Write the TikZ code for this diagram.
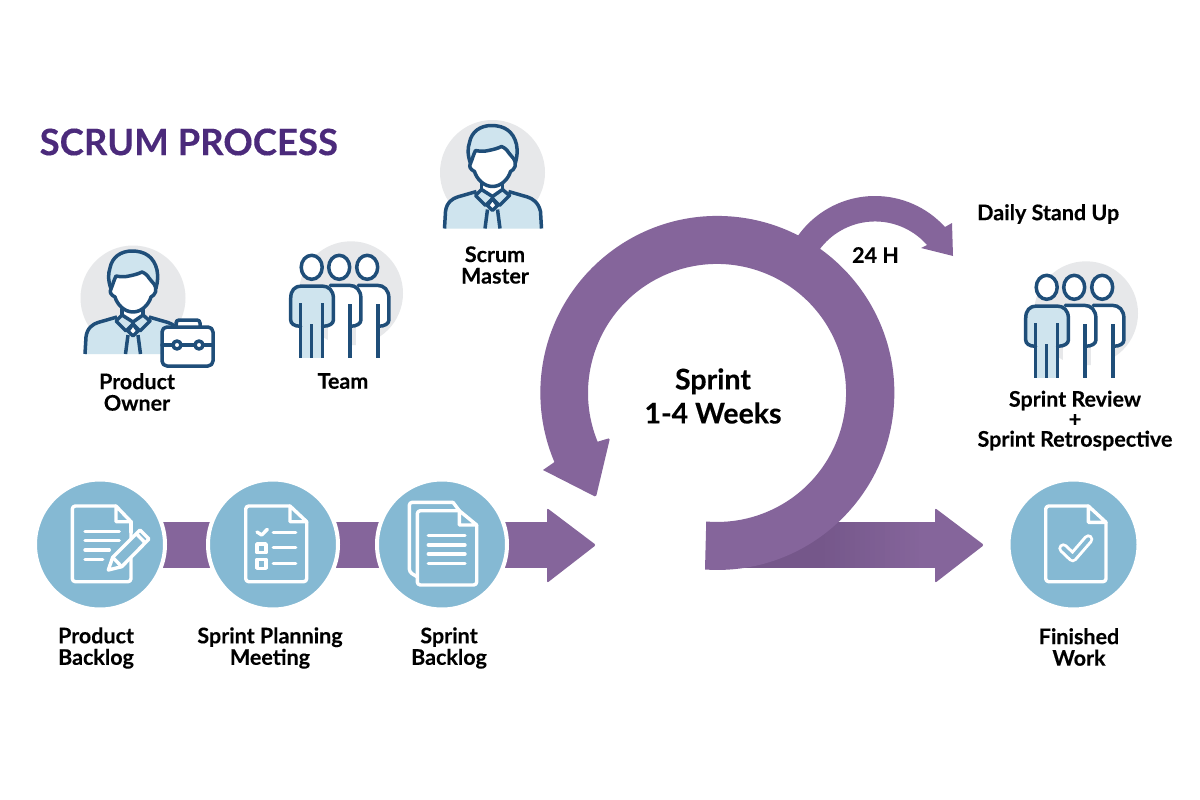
\documentclass[tikz,border=0pt]{standalone}
\usepackage{fontspec}
\setmainfont{Lato}[BoldFont={Lato Bold},BoldFeatures={FakeBold=0.25}]
\usetikzlibrary{calc}
\definecolor{loop}{HTML}{85659B}
\definecolor{loopdark}{HTML}{75578A}
\definecolor{title}{HTML}{4B2A7B}
\definecolor{disc}{HTML}{85B9D3}
\definecolor{navy}{HTML}{1F4E79}
\definecolor{skin}{HTML}{CFE4EE}
\definecolor{halo}{HTML}{E7E8EA}
\tikzset{
  label text/.style={font=\bfseries\fontsize{21.5}{21.5}\selectfont,align=center,text=black,inner sep=0pt},
  big text/.style={font=\bfseries\fontsize{28.5}{34}\selectfont,align=center,text=black,inner sep=0pt},
  stage/.style={circle,fill=disc,draw=white,line width=4pt,minimum size=130pt,inner sep=0pt},
  glyph/.style={draw=white,line width=3.4pt,line join=round,line cap=round},
  stroke/.style={draw=navy,line width=3.5pt,line join=round,line cap=round},
  band/.style={fill=loop,draw=none},
  pics/manager/.style={code={
    % grey backdrop
    \fill[halo] (0,0) circle[radius=52.5];
    % shoulders, open at the bottom
    \fill[skin] (-48,56) -- (-47,39) .. controls (-46,30) and (-40,26) .. (-35,24.5) -- (-16,19) -- (16,19) -- (35,24.5) .. controls (40,26) and (46,30) .. (48,39) -- (49,56) -- cycle;
    \draw[stroke,line cap=butt] (-48,56) -- (-47,39) .. controls (-46,30) and (-40,26) .. (-35,24.5) -- (-16,19);
    \draw[stroke,line cap=butt] (49,56) -- (48,39) .. controls (46,30) and (40,26) .. (35,24.5) -- (16,19);
    % neck and collar
    \fill[white] (-11,8) rectangle (10,26);
    \draw[stroke,fill=skin] (-11,17) -- (-17,23) -- (-7,33) -- (0,26) -- (7,33) -- (17,23) -- (10,17) -- (0,24) -- cycle;
    \draw[stroke] (-11,11) -- (-11,17);
    \draw[stroke] (10,11) -- (10,17);
    % tie
    \draw[stroke,fill=white] (0,26) -- (-5,33) -- (0,38) -- (5,33) -- cycle;
    \draw[stroke,line cap=butt] (-5,37) -- (-7.5,56);
    \draw[stroke,line cap=butt] (5,37) -- (7.5,56);
    % hair
    \draw[stroke,fill=skin] (-22,-9) .. controls (-25,-18) and (-25,-24) .. (-23,-30) .. controls (-21,-41) and (-12,-47) .. (-1,-47) .. controls (12,-47) and (21,-41) .. (24,-28) .. controls (25,-22) and (25,-17) .. (23,-10) -- (14,-14) -- (-14,-14) -- cycle;
    % face
    \draw[stroke,fill=white] (-22,-9) .. controls (-20,-14) and (-19,-18) .. (-17,-22) .. controls (-12,-21) and (-8,-21) .. (-4,-22) .. controls (1,-23) and (5,-24) .. (9,-26) .. controls (12,-25) and (15,-22) .. (16,-20) .. controls (17,-18) and (19,-17) .. (21,-14) .. controls (25,-8) and (22,-3) .. (18,-1) .. controls (16,6) and (9,14) .. (0,14) .. controls (-9,14) and (-16,6) .. (-18,-1) .. controls (-22,-3) and (-24,-6) .. (-22,-9) -- cycle;
  }},
  pics/crew/.style={code={
    % grey backdrop, sitting behind the group
    \fill[halo] (39.3,26) circle[radius=52];
    % third and second figures, seen only in outline
    \foreach \dx in {55.5,27.5}{
      \begin{scope}[xshift=\dx pt]
        \fill[white] (-11,18) -- (10,18) .. controls (17,18) and (21.7,23) .. (21.7,31) -- (21.7,52.7) .. controls (21.7,56) and (18,59) .. (11,59) -- (11,91) -- (-11,91) -- cycle;
        \draw[stroke] (-9,18) -- (10,18) .. controls (17,18) and (21.7,23) .. (21.7,31) -- (21.7,52.7) .. controls (21.7,56) and (18,59) .. (11,59);
        \draw[stroke,line cap=butt] (11,37) -- (11,91);
        \draw[stroke,fill=white] (0,0) ellipse[x radius=10.5,y radius=12];
      \end{scope}
    }
    % front figure
    \fill[skin] (-11,18.7) -- (11,18.7) -- (11,91) -- (-11,91) -- cycle;
    \fill[skin] (-21,31) .. controls (-21,23) and (-17,18.7) .. (-10,18.7) -- (10,18.7) .. controls (17,18.7) and (21.7,23) .. (21.7,31) -- (21.7,52.7) .. controls (21.7,56) and (18,59) .. (11,59) -- (-11,59) .. controls (-18,59) and (-21,56) .. (-21,52.7) -- cycle;
    \draw[stroke] (-11,59) .. controls (-18,59) and (-21,56) .. (-21,52.7) -- (-21,31) .. controls (-21,23) and (-17,18.7) .. (-10,18.7) -- (10,18.7) .. controls (17,18.7) and (21.7,23) .. (21.7,31) -- (21.7,52.7) .. controls (21.7,56) and (18,59) .. (11,59);
    \draw[stroke,line cap=butt] (-11,36) -- (-11,91);
    \draw[stroke,line cap=butt] (11,36) -- (11,91);
    \draw[stroke,line cap=butt] (0,57) -- (0,91);
    \draw[stroke,fill=white] (0,0) ellipse[x radius=10.5,y radius=12];
  }},
}
\begin{document}
\begin{tikzpicture}[x=1pt,y=-1pt]
\useasboundingbox (0,0) rectangle (1200,800);
\fill[white] (0,0) rectangle (1200,800);

% ---- heading
\node[anchor=west,inner sep=0pt,text=title,font=\bfseries\fontsize{36.5}{40}\selectfont] (heading) at (39.5,142) {SCRUM PROCESS};

% ---- flow into the sprint
\coordinate (intake) at (547,545);
\coordinate (intaketip) at (596,545);
\fill[band] (100,522) rectangle (548,568);
\fill[band,rounded corners=2pt] (547,508) -- (intaketip) -- (547,583) -- cycle;

\node[stage] (pb) at (100,544.5) {};
\node[stage] (pm) at (273,544.5) {};
\node[stage] (sb) at (442,544.5) {};

% ---- product backlog sheet with pencil
\draw[glyph,rounded corners=3pt] (131,532) -- (131,581.7) -- (72.3,581.7) -- (72.3,506) -- (116,506);
\draw[glyph] (116,506) -- (131,521.7) -- (116,521.7) -- cycle;
\draw[glyph] (131,521.7) -- (131,532);
\draw[glyph] (85,531.7) -- (119.3,531.7);
\draw[glyph] (85,540.7) -- (119.3,540.7);
\draw[glyph] (85,550) -- (109.3,550);
\draw[glyph] (85,559.3) -- (102.7,559.3);
\draw[glyph,fill=disc] (108.3,570) -- (112.7,557.3) -- (140,530) -- (149,539) -- (121.7,566.7) -- cycle;
\draw[glyph] (136.7,534) -- (145,542.7);
\draw[glyph] (112.7,557.3) -- (121.7,566.7);

% ---- planning sheet with checklist
\draw[glyph,rounded corners=3pt] (306.7,521.7) -- (306.7,581.7) -- (245.7,581.7) -- (245.7,506) -- (290,506);
\draw[glyph] (290,506) -- (306.7,521.7) -- (290,521.7) -- cycle;
\draw[glyph] (257,532) -- (261.7,535) -- (267.3,529.3);
\draw[glyph] (273.3,532.3) -- (295.7,532.3);
\draw[glyph] (273.3,547.7) -- (295.7,547.7);
\draw[glyph] (273.3,563.3) -- (295.7,563.3);
\draw[glyph] (257,544) rectangle (266,552.7);
\draw[glyph] (257,559.3) rectangle (266,568.3);

% ---- sprint backlog, two stacked sheets
\draw[glyph,rounded corners=3pt] (417,576.7) -- (409.3,572) -- (409.3,502.3) -- (453,502.3);
\draw[glyph] (453,502.3) -- (459.3,510.7);
\draw[glyph,rounded corners=3pt] (476.7,525) -- (476.7,585) -- (417.3,585) -- (417.3,510.7) -- (459.3,510.7);
\draw[glyph] (459.3,510.7) -- (476.7,525) -- (459.3,525) -- cycle;
\draw[glyph] (428.3,535.7) -- (465,535.7);
\draw[glyph] (428.3,545) -- (465,545);
\draw[glyph] (428.3,554) -- (465,554);
\draw[glyph] (428.3,563.3) -- (465,563.3);

% ---- output of the sprint, darker where the loop overlaps it
\coordinate (output) at (935,545);
\coordinate (outputtip) at (984,545);
\fill[loopdark] (720,522) rectangle (821,568);
\foreach \i in {0,...,19}{
  \pgfmathsetmacro{\shadeamt}{100-\i*5}
  \fill[loopdark!\shadeamt!loop] ({820+\i*5},522) rectangle ({826+\i*5},568);
}
\fill[band] (919,522) rectangle (936,568);
\fill[band,rounded corners=2pt] (935,508) -- (outputtip) -- (935,583) -- cycle;

% ---- daily 24 hour loop
\fill[band] (875,290.5) ++(-150:94.5) arc[start angle=-150,end angle=-42.2,radius=94.5]
  -- (952,223) -- (953,256) -- (921,248) -- (927,245)
  arc[start angle=-41.2,end angle=-150,radius=69] -- cycle;

% ---- sprint loop
\fill[band] (705,569.5) arc[start angle=94,end angle=-203,radius=177]
  -- (543,470) [rounded corners=1.5pt] -- (596,497) -- (610,438) [sharp corners] -- (597.6,441.7)
  arc[start angle=-202.2,end angle=94.8,radius=129] -- cycle;

\node[big text] (sprint) at (713,396) {Sprint\\1-4 Weeks};
\node[label text] (daily) at (875.5,255) {24 H};
\node[label text,anchor=west] (standup) at (977,214) {Daily Stand Up};

% ---- finished work
\node[stage] (fw) at (1073.5,544.5) {};
\draw[glyph,rounded corners=3pt] (1106,522.3) -- (1106,581.7) -- (1045.7,581.7) -- (1045.7,506) -- (1088.3,506);
\draw[glyph] (1088.3,506) -- (1106,522.3) -- (1088.3,522.3) -- cycle;
\draw[white,line width=10pt,line cap=round,line join=round] (1063.3,548.3) -- (1072.7,557.3) -- (1088.3,539.3);
\draw[disc,line width=4pt,line cap=round,line join=round] (1063.3,548.3) -- (1072.7,557.3) -- (1088.3,539.3);

% ---- roles
\pic at (133,298) {manager};
\draw[stroke,fill=none,rounded corners=3pt] (176,327) -- (176,320) -- (200,320) -- (200,327);
\draw[stroke,fill=white,rounded corners=5pt] (162,327) rectangle (213,366);
\draw[stroke] (162,345) -- (173,345);
\draw[stroke] (181,345) -- (195,345);
\draw[stroke] (203,345) -- (213,345);
\draw[stroke] (177,345) circle[radius=4];
\draw[stroke] (199,345) circle[radius=4];

\pic at (311.7,267.3) {crew};
\pic at (492.5,172.5) {manager};
\pic at (1046.7,287.3) {crew};

% ---- captions
\node[label text] (owner) at (137,392) {Product\\Owner};
\node[label text] (team) at (343,381) {Team};
\node[label text] (master) at (495,265) {Scrum\\Master};
\node[label text,font=\bfseries\fontsize{21.5}{20}\selectfont] (review) at (1075,420.5) {Sprint Review\\+\\Sprint Retrospective};
\node[label text] (cpb) at (96,648) {Product\\Backlog};
\node[label text] (cpm) at (270,648) {Sprint Planning\\Meeting};
\node[label text] (csb) at (449,648) {Sprint\\Backlog};
\node[label text] (cfw) at (1079,647) {Finished\\Work};
\end{tikzpicture}
\end{document}
